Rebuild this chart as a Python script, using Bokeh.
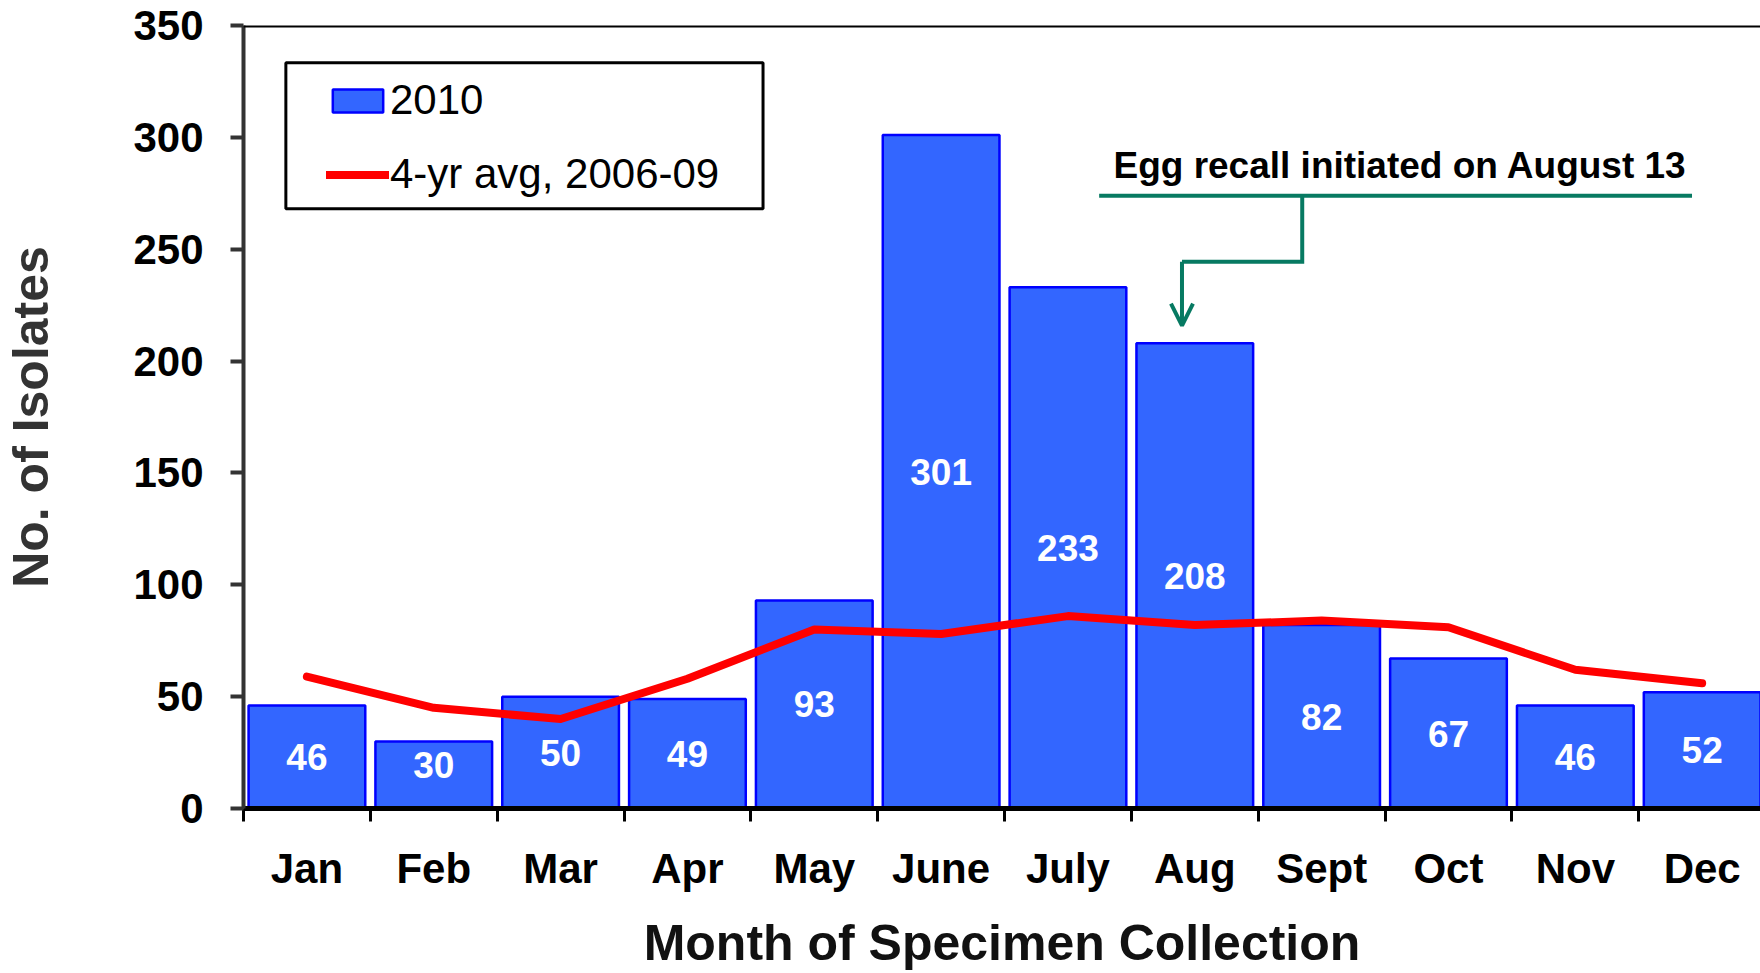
from bokeh.plotting import figure
from bokeh.models import (Range1d, FixedTicker, Legend, LegendItem, Span, Arrow,
                          OpenHead, BoxAnnotation, Label)
from bokeh.embed import file_html
from bokeh.resources import INLINE
from bokeh.core.properties import value

# ---------------- data ----------------
months = ["Jan", "Feb", "Mar", "Apr", "May", "June", "July", "Aug", "Sept", "Oct", "Nov", "Dec"]
isolates_2010 = [46, 30, 50, 49, 93, 301, 233, 208, 82, 67, 46, 52]
avg_2006_09 = [59, 45, 40, 58, 80, 78, 86, 82, 84, 81, 62, 56]
y_ticks = [0, 50, 100, 150, 200, 250, 300, 350]
series_bar_label = "2010"
series_line_label = "4-yr avg, 2006-09"
annotation_text = "Egg recall initiated on August 13"

# annotation geometry (data units)
ann_text_xy = (9.12, 287.3)
ann_top_line_x = [6.746, 11.42]
ann_top_line_y = [273.9, 273.9]
ann_conn_x = [8.347, 8.347, 7.399]
ann_conn_y = [273.9, 244.4, 244.4]
ann_arrow = (7.399, 244.4, 7.399, 215.8)

FONT = "Liberation Sans"
GREEN = "#077a62"

x_centers = [i + 0.5 for i in range(len(months))]
label_y = [max(v / 2, 19.5) for v in isolates_2010]

p = figure(width=1760, height=973, output_backend="svg", toolbar_location=None,
           x_range=Range1d(0, 11.96), y_range=Range1d(0, 350),
           min_border_left=243, min_border_right=0, min_border_top=25, min_border_bottom=165,
           background_fill_color="white", border_fill_color="white")
p.outline_line_color = None
p.xgrid.visible = False
p.ygrid.visible = False

# bars
bars = p.vbar(x=x_centers, top=isolates_2010, width=0.92, bottom=0,
              fill_color="#3366FF", line_color="#0000FF", line_width=2.5)
# average line
line = p.line(x_centers, avg_2006_09, line_color="#FF0000", line_width=8,
              line_cap="round", line_join="round")
# bar value labels
p.text(x=x_centers, y=label_y, text=[str(v) for v in isolates_2010],
       text_color="white", text_font=value(FONT), text_font_style="bold",
       text_font_size="37px", text_align="center", text_baseline="middle")

# top frame line
p.add_layout(Span(location=350, dimension="width", line_color="black", line_width=4))

# x axis
xa = p.xaxis[0]
xa.ticker = FixedTicker(ticks=x_centers, minor_ticks=list(range(len(months) + 1)))
xa.major_label_overrides = {c: m for c, m in zip(x_centers, months)}
xa.major_tick_out = 0
xa.major_tick_in = 0
xa.minor_tick_out = 13
xa.minor_tick_in = 0
xa.minor_tick_line_color = "black"
xa.minor_tick_line_width = 3
xa.axis_line_color = "black"
xa.axis_line_width = 5
xa.major_label_text_font = FONT
xa.major_label_text_font_style = "bold"
xa.major_label_text_font_size = "42px"
xa.major_label_text_color = "black"
xa.major_label_standoff = 23
xa.axis_label = "Month of Specimen Collection"
xa.axis_label_text_font = FONT
xa.axis_label_text_font_style = "bold"
xa.axis_label_text_font_size = "50px"
xa.axis_label_text_color = "#111111"
xa.axis_label_standoff = 20

# y axis
ya = p.yaxis[0]
ya.ticker = FixedTicker(ticks=y_ticks)
ya.major_tick_out = 13
ya.major_tick_in = 0
ya.major_tick_line_color = "#333333"
ya.major_tick_line_width = 4
ya.minor_tick_line_color = None
ya.axis_line_color = "#333333"
ya.axis_line_width = 4
ya.major_label_text_font = FONT
ya.major_label_text_font_style = "bold"
ya.major_label_text_font_size = "42px"
ya.major_label_text_color = "black"
ya.major_label_standoff = 27
ya.axis_label = "No. of Isolates"
ya.axis_label_text_font = FONT
ya.axis_label_text_font_style = "bold"
ya.axis_label_text_font_size = "50px"
ya.axis_label_text_color = "#333333"
ya.axis_label_standoff = 71

# legend box + legend
p.add_layout(BoxAnnotation(left=0.334, right=4.096, top=333.3, bottom=268.1,
                           fill_alpha=0, line_color="black", line_alpha=1, line_width=3))
legend = Legend(items=[LegendItem(label=series_bar_label, renderers=[bars]),
                       LegendItem(label=series_line_label, renderers=[line])],
                location=(83, 610), padding=0, margin=0, spacing=26,
                glyph_width=63, glyph_height=29, label_standoff=1,
                label_text_font=FONT, label_text_font_size="42px",
                label_text_color="black",
                border_line_color=None, background_fill_alpha=0)
p.add_layout(legend)

# recall annotation
p.line(ann_top_line_x, ann_top_line_y, line_color=GREEN, line_width=4)
p.line(ann_conn_x, ann_conn_y, line_color=GREEN, line_width=4, line_join="miter")
p.add_layout(Arrow(end=OpenHead(size=22, line_color=GREEN, line_width=4),
                   x_start=ann_arrow[0], y_start=ann_arrow[1],
                   x_end=ann_arrow[2], y_end=ann_arrow[3],
                   line_color=GREEN, line_width=4))
p.add_layout(Label(x=ann_text_xy[0], y=ann_text_xy[1], text=annotation_text,
                   text_align="center", text_baseline="middle",
                   text_font=FONT, text_font_style="bold", text_font_size="37px",
                   text_color="black"))

open("out.html", "w").write(file_html(p, INLINE))
